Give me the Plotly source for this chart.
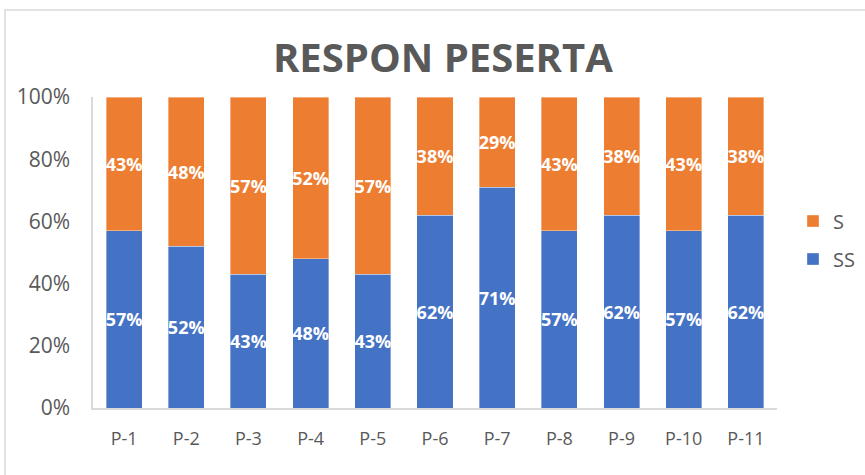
import plotly.graph_objects as go

categories = ["P-1", "P-2", "P-3", "P-4", "P-5", "P-6", "P-7", "P-8", "P-9", "P-10", "P-11"]
ss_values = [0.57, 0.52, 0.43, 0.48, 0.43, 0.62, 0.71, 0.57, 0.62, 0.57, 0.62]
s_values = [0.43, 0.48, 0.57, 0.52, 0.57, 0.38, 0.29, 0.43, 0.38, 0.43, 0.38]
y_ticks = [0, 0.2, 0.4, 0.6, 0.8, 1.0]

BLUE = "#4472C4"
ORANGE = "#ED7D31"
GRAY = "#595959"
FONT = "Open Sans"

fig = go.Figure()
for name, vals, col, rank in [("SS", ss_values, BLUE, 2), ("S", s_values, ORANGE, 1)]:
    fig.add_trace(go.Bar(
        name=name, x=categories, y=vals, legendgroup=name, legendrank=rank,
        marker=dict(color=col, line=dict(color="rgba(255,255,255,0.6)", width=0.6)),
        texttemplate="%{y:.0%}", textposition="inside", insidetextanchor="middle",
        textangle=0, constraintext="none",
        textfont=dict(family=FONT, size=18, color="white", weight="bold"),
        hoverinfo="skip",
    ))

fig.update_layout(
    width=865, height=475,
    barmode="stack", bargap=0.42,
    margin=dict(l=93, r=88, t=97, b=67, autoexpand=False),
    paper_bgcolor="white", plot_bgcolor="white",
    title=dict(text="RESPON PESERTA", x=0.512, xanchor="center", y=1 - 57.5 / 475,
               yanchor="middle", yref="container",
               font=dict(family=FONT, size=40, color=GRAY, weight="bold")),
    legend=dict(traceorder="grouped", x=1.0234, xanchor="left", y=0.54, yanchor="middle",
                font=dict(family=FONT, size=20, color=GRAY), itemwidth=30,
                tracegroupgap=9, bgcolor="rgba(0,0,0,0)"),
    showlegend=True,
    shapes=[dict(type="rect", xref="paper", yref="paper",
                 x0=(5 - 93) / 684, x1=(880 - 93) / 684,
                 y0=(475 - 67 - 490) / 311, y1=(475 - 67 - 10) / 311,
                 line=dict(color="#d9d9d9", width=1.5), fillcolor="rgba(0,0,0,0)", layer="below")],
)
fig.update_yaxes(range=[0, 1], tickvals=y_ticks, tickformat=".0%", showgrid=False,
                 showline=True, linecolor="#d9d9d9", linewidth=1.5, zeroline=False,
                 ticks="", ticklabelstandoff=17, automargin=False,
                 tickfont=dict(family=FONT, size=21, color=GRAY))
fig.update_xaxes(showgrid=False, showline=True, linecolor="#d9d9d9", linewidth=1.5,
                 ticks="", ticklabelstandoff=14, automargin=False,
                 tickfont=dict(family=FONT, size=18, color=GRAY))

fig.write_html("out.html", config={"displayModeBar": False},
               post_script="document.body.style.margin='0';document.body.style.padding='0';")
